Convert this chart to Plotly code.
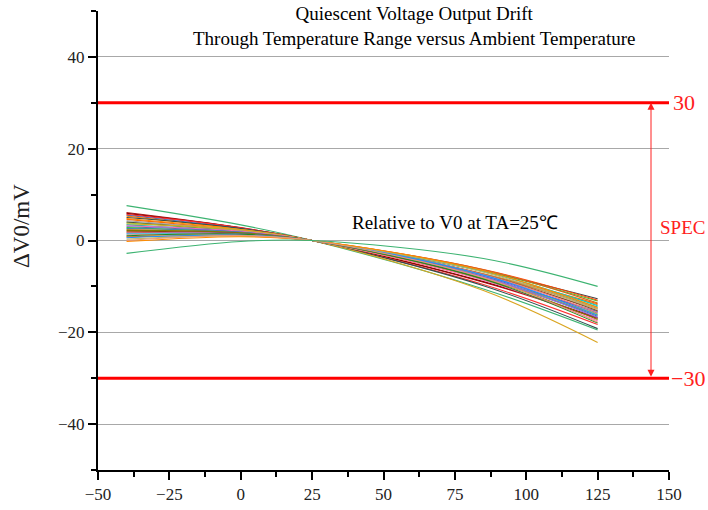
import plotly.graph_objects as go

# Temperatures (°C) at which each curve is sampled
temps = [-40, 0, 25, 85, 125]

# ΔV0 (mV) values for each device curve, at the temperatures above
curve_values = [
    [7.6, 3.40, 0, -10.56, -19.5],
    [6.1, 2.81, 0, -9.09, -17.0],
    [5.9, 2.74, 0, -8.96, -16.8],
    [5.7, 2.77, 0, -9.59, -18.3],
    [5.5, 2.54, 0, -8.28, -15.5],
    [5.3, 2.39, 0, -7.55, -14.0],
    [5.0, 2.62, 0, -9.85, -19.2],
    [4.8, 2.38, 0, -8.44, -16.2],
    [4.6, 2.18, 0, -7.30, -13.8],
    [4.3, 2.16, 0, -7.78, -15.0],
    [4.0, 1.94, 0, -6.67, -12.7],
    [3.8, 2.08, 0, -8.12, -16.0],
    [3.6, 2.39, 0, -10.90, -22.2],
    [3.4, 1.87, 0, -7.35, -14.5],
    [3.2, 1.99, 0, -8.67, -17.5],
    [3.0, 1.83, 0, -7.85, -15.8],
    [2.8, 1.62, 0, -6.63, -13.2],
    [2.6, 1.76, 0, -8.08, -16.5],
    [2.4, 1.60, 0, -7.26, -14.8],
    [2.2, 1.68, 0, -8.31, -17.2],
    [2.0, 1.51, 0, -7.40, -15.3],
    [1.8, 1.31, 0, -6.31, -13.0],
    [1.6, 1.48, 0, -7.99, -16.8],
    [1.4, 1.27, 0, -6.77, -14.2],
    [1.2, 1.30, 0, -7.41, -15.7],
    [1.0, 1.38, 0, -8.41, -18.0],
    [0.8, 1.06, 0, -6.36, -13.6],
    [0.6, 1.16, 0, -7.54, -16.3],
    [0.3, 1.00, 0, -6.89, -15.0],
    [-0.2, 0.83, 0, -6.59, -14.6],
    [0.0, 1.08, 0, -8.09, -17.8],
    [-2.8, -0.21, 0, -3.92, -10.0],
]

curve_colors = [
    "#3cb371", "#b22222", "#8b0000", "#ff3030", "#1f6fd0", "#ff7f0e",
    "#2f4f4f", "#ff8c00", "#ff6a00", "#a0a0a0", "#404040", "#9acd32",
    "#daa520", "#20b2aa", "#ff69b4", "#6a5acd", "#32cd32", "#4682b4",
    "#cd853f", "#808000", "#8b4513", "#ff4500", "#9370db", "#00ced1",
    "#f08080", "#228b22", "#d2691e", "#1e90ff", "#bdb76b", "#ff8c00",
    "#e9967a", "#3cb371",
]

spec_limits = [30, -30]
spec_labels = ["30", "\u221230"]

x_ticks = [-50, -25, 0, 25, 50, 75, 100, 125, 150]
y_ticks = [-40, -20, 0, 20, 40]

FONT = "Liberation Serif"

TOP, BOTTOM = 11, 40
PLOT_H = 510 - TOP - BOTTOM

fig = go.Figure()

for vals, col in zip(curve_values, curve_colors):
    fig.add_trace(go.Scatter(
        x=temps, y=vals, mode="lines",
        line=dict(color=col, width=1.1, shape="spline", smoothing=1.0),
        showlegend=False, hoverinfo="skip",
    ))

# SPEC limit lines
for lim in spec_limits:
    fig.add_shape(type="line", xref="x", yref="y", x0=-50, x1=150, y0=lim, y1=lim,
                  line=dict(color="#ff0000", width=3), layer="above")

annotations = []
for lim, lab in zip(spec_limits, spec_labels):
    annotations.append(dict(
        xref="paper", yref="y", x=1.0 if lim < 0 else 1.003, y=lim, text=lab,
        showarrow=False, xanchor="left", yanchor="middle",
        font=dict(family=FONT, size=22, color="#ff2020"),
    ))

# double-headed SPEC arrow
annotations.append(dict(
    xref="x", yref="y", axref="x", ayref="y",
    x=143.7, y=spec_limits[0], ax=143.7, ay=spec_limits[1],
    text="", showarrow=True, arrowhead=2, startarrowhead=2, arrowside="end+start",
    arrowsize=1.4, startarrowsize=1.4, arrowwidth=1, arrowcolor="#ff2020",
    standoff=0, startstandoff=0,
))
annotations.append(dict(
    xref="paper", yref="y", x=0.981, y=2.8, text="SPEC", showarrow=False,
    xanchor="left", yanchor="middle",
    font=dict(family=FONT, size=19, color="#ff2020"),
))
annotations.append(dict(
    xref="x", yref="y", x=75, y=3.9, text="Relative to V0 at TA=25\u2103",
    showarrow=False, xanchor="center", yanchor="middle",
    font=dict(family=FONT, size=19, color="black"),
))
annotations.append(dict(
    xref="paper", yref="paper", x=(414 - 98) / 571, y=1.0 + 10 / PLOT_H, yanchor="top", xanchor="center",
    text="Quiescent Voltage Output Drift<br>Through Temperature Range versus Ambient Temperature",
    showarrow=False, align="center",
    font=dict(family=FONT, size=19, color="black"),
))
annotations.append(dict(
    xref="paper", yref="paper", x=(22 - 98) / 571, y=(510 - BOTTOM - 226) / PLOT_H,
    text="\u0394V0/mV", textangle=-90, showarrow=False,
    xanchor="center", yanchor="middle",
    font=dict(family=FONT, size=23, color="#222222"),
))

fig.update_layout(
    width=708, height=510,
    margin=dict(l=98, r=39, t=TOP, b=BOTTOM),
    paper_bgcolor="white", plot_bgcolor="white",
    showlegend=False,
    annotations=annotations,
    font=dict(family=FONT, size=17, color="#222222"),
)

fig.update_xaxes(
    range=[-50, 150], tickvals=x_ticks, ticktext=[str(v).replace("-", "\u2212") for v in x_ticks],
    showgrid=False, zeroline=False, automargin=False,
    showline=True, linecolor="black", linewidth=2,
    ticks="outside", ticklen=8, tickwidth=2, tickcolor="black",
    minor=dict(dtick=12.5, tick0=-50, ticks="outside", ticklen=5, tickwidth=1.5, tickcolor="black", showgrid=False),
    tickfont=dict(family=FONT, size=17, color="#222222"),
)
fig.update_yaxes(
    range=[-50, 50], tickvals=y_ticks, ticktext=[str(v).replace("-", "\u2212") for v in y_ticks],
    showgrid=True, gridcolor="#a8a8a8", gridwidth=1, zeroline=False, automargin=False,
    showline=True, linecolor="black", linewidth=2,
    ticks="outside", ticklen=8, tickwidth=2, tickcolor="black",
    minor=dict(dtick=10, tick0=-50, ticks="outside", ticklen=5, tickwidth=1.5, tickcolor="black", showgrid=False),
    tickfont=dict(family=FONT, size=17, color="#222222"),
)

fig.write_html("out.html")
